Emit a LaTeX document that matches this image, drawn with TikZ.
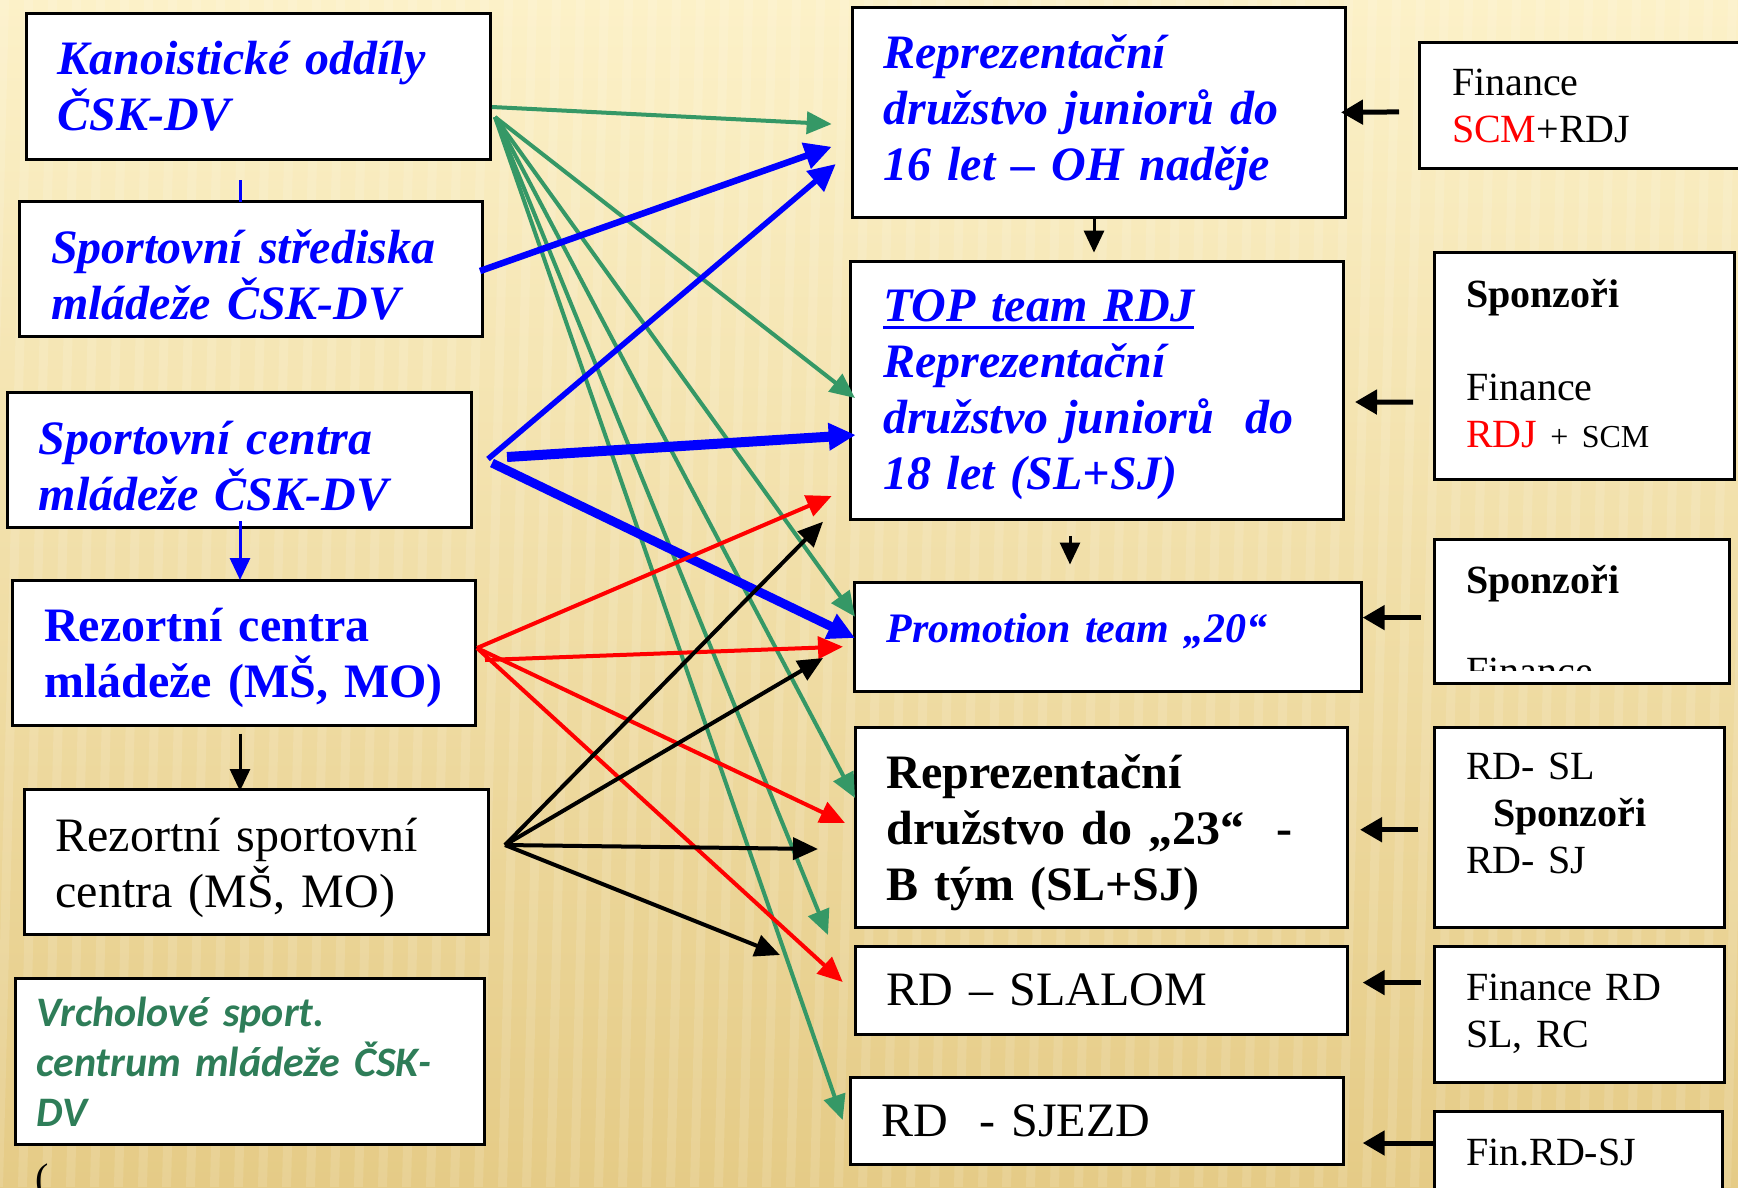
\documentclass[tikz,border=0pt]{standalone}
\usepackage{fontspec}
\setmainfont{Liberation Serif}
\setsansfont{Carlito}
\usetikzlibrary{arrows.meta,calc}

\definecolor{arrgreen}{RGB}{53,152,102}
\definecolor{txtgreen}{RGB}{46,125,88}
\definecolor{bgtop}{RGB}{252,241,200}
\definecolor{bgbot}{RGB}{229,203,134}

\newcommand{\bigtxt}{\fontsize{48}{56}\selectfont}
\newcommand{\midtxt}{\fontsize{40}{47}\selectfont}
\newcommand{\promotxt}{\fontsize{42}{50}\selectfont}
\newcommand{\ultext}[1]{\setbox0\hbox{#1}\rlap{\rule[-8pt]{\wd0}{3.5pt}}\box0}
\newcommand{\padtop}[1]{\rule{0pt}{#1}}

\tikzset{
  box/.style={draw=black, line width=3pt, fill=white, anchor=north west, align=left, inner ysep=0pt, outer sep=0pt},
  grnarr/.style={arrgreen, line width=4pt, -{Triangle[length=25pt,width=22pt]}},
  bluarr/.style={blue, -{Triangle[length=27pt,width=26pt]}},
  redarr/.style={red, line width=4pt, -{Triangle[length=25pt,width=22pt]}},
  blkarr/.style={black, line width=4pt, -{Triangle[length=25pt,width=22pt]}},
  finarr/.style={black, line width=5pt, -{Triangle[length=22pt,width=24pt]}},
  downarr/.style={line width=3pt, -{Triangle[length=22pt,width=20pt]}},
}

\begin{document}
\begin{tikzpicture}[x=1pt,y=1pt,yscale=-1,xscale=1]
  \useasboundingbox (0,0) rectangle (1738,1187);
  \clip (0,0) rectangle (1738,1187);

  % Background
  \shade[top color=bgtop, bottom color=bgbot] (0,0) rectangle (1738,1187);
  \foreach \sx in {0,24,...,1780} {
    \fill[white, opacity=.12] (\sx,0) -- (\sx+9,0) -- (\sx-21,1187) -- (\sx-30,1187) -- cycle;
  }

  % Left column
  \node[box, minimum width=464pt, minimum height=146pt, text width=402pt, inner xsep=31pt, text=blue, font=\bigtxt\bfseries\itshape] (kanoe) at (26.6,13.4) {Kanoistické oddíly\\ČSK-DV};
  \node[box, minimum width=463.4pt, minimum height=135pt, text width=400pt, inner xsep=31.6pt, text=blue, font=\bigtxt\bfseries\itshape] (stred) at (19.4,201.7) {\padtop{45pt}Sportovní střediska\\mládeže ČSK-DV};
  \node[box, minimum width=463.8pt, minimum height=135pt, text width=400.6pt, inner xsep=31.6pt, text=blue, font=\bigtxt\bfseries\itshape] (centra) at (7.2,392) {\padtop{46pt}Sportovní centra\\mládeže ČSK-DV};
  \node[box, minimum width=463.4pt, minimum height=145.6pt, text width=399.4pt, inner xsep=32pt, text=blue, font=\bigtxt\bfseries] (rezcen) at (12.2,580) {\padtop{43pt}Rezortní centra\\mládeže (MŠ, MO)};
  \node[box, minimum width=463.6pt, minimum height=145.6pt, text width=401.6pt, inner xsep=31pt, font=\bigtxt] (rezsport) at (24.4,789) {\padtop{45pt}Rezortní sportovní\\centra (MŠ, MO)};
  \node[box, minimum width=468.5pt, minimum height=166.5pt, text width=426.5pt, inner xsep=21pt, text=txtgreen, font=\fontsize{42}{50}\selectfont\sffamily\bfseries\itshape] (vrchol) at (15.5,978) {Vrcholové sport.\\centrum mládeže ČSK-\\DV};
  \node[anchor=base west, inner sep=0pt, font=\midtxt] (paren) at (35,1191) {(};

  % Middle column
  \node[box, minimum width=493pt, minimum height=209.3pt, text width=430pt, inner xsep=31.4pt, text=blue, font=\bigtxt\bfseries\itshape] (rep16) at (852,7.7) {Reprezentační\\družstvo juniorů do\\16 let – OH naděje};
  \node[box, minimum width=493pt, minimum height=258pt, text width=427pt, inner xsep=33pt, text=blue, font=\bigtxt\bfseries\itshape] (topteam) at (850,261) {\padtop{41pt}\ultext{TOP team RDJ}\\Reprezentační\\družstvo juniorů\ \ do\\18 let (SL+SJ)};
  \node[box, minimum width=507.5pt, minimum height=109pt, text width=442pt, inner xsep=32.7pt, text=blue, font=\promotxt\bfseries\itshape] (promo) at (854,582) {Promotion team „20“\\[-32pt]\mbox{}};
  \node[box, minimum width=492pt, minimum height=200pt, text width=428.6pt, inner xsep=31.7pt, font=\bigtxt\bfseries] (rep23) at (855,727) {\padtop{46pt}Reprezentační\\družstvo do „23“\ \ -\\B tým (SL+SJ)};
  \node[box, minimum width=492pt, minimum height=88pt, text width=428.6pt, inner xsep=31.7pt, font=\bigtxt] (slalom) at (855,946) {RD – SLALOM};
  \node[box, minimum width=493pt, minimum height=87pt, text width=431pt, inner xsep=31pt, font=\bigtxt] (sjezd) at (850,1077.5) {RD\ \ - SJEZD};

  % Right column
  \node[box, minimum width=330pt, minimum height=126pt, text width=265pt, inner xsep=32.5pt, font=\midtxt] (fin1) at (1419.5,42.9) {Finance\\\textcolor{red}{SCM}+RDJ};
  \node[box, minimum width=300.5pt, minimum height=227pt, text width=236.5pt, inner xsep=32pt, font=\midtxt] (spon1) at (1434,252.6) {\textbf{Sponzoři}\\[46pt]Finance\\\textcolor{red}{RDJ} {\fontsize{32}{38}\selectfont + SCM}\\[-41pt]\mbox{}};
  \node[box, minimum width=295pt, minimum height=144pt] (spon2) at (1434,539.6) {};
  \node[anchor=base west, inner sep=0pt, font=\midtxt\bfseries] (spon2a) at (1466,593.3) {Sponzoři};
  \begin{scope}
    \clip (1436,542) rectangle (1727,670);
    \node[anchor=base west, inner sep=0pt, font=\midtxt] (spon2b) at (1466,684) {Finance –};
  \end{scope}
  \node[box, minimum width=290.6pt, minimum height=200pt, text width=226.6pt, inner xsep=32pt, font=\midtxt] (spon3) at (1434,727) {RD- SL\\\hspace*{27pt}\textbf{Sponzoři}\\RD- SJ\\[-20pt]\mbox{}};
  \node[box, minimum width=290.6pt, minimum height=136pt, text width=226.6pt, inner xsep=32pt, font=\midtxt] (fin2) at (1434,946) {Finance RD\\SL, RC};
  \node[box, minimum width=288pt, minimum height=84pt, text width=224pt, inner xsep=32pt, font=\midtxt] (fin3) at (1434,1111) {Fin.RD-SJ};

  % Start points of the fans
  \coordinate (leftcol) at (240,0);
  \coordinate (rcolA) at (1094,0);
  \coordinate (rcolB) at (1070,0);
  \coordinate (kanout) at (492,107);
  \coordinate (kanfan) at (495,117);
  \coordinate (stredout) at (480,271);
  \coordinate (cenout) at (488,459);
  \coordinate (cenmid) at (507,457);
  \coordinate (cenlow) at (492,463);
  \coordinate (rezout) at (477,648);
  \coordinate (rezmid) at (485,660);
  \coordinate (rsout) at (505,845);

  % Vertical links
  \draw[blue, line width=3pt] ($(kanoe.south -| leftcol)+(0,20.6)$) -- (stred.north -| leftcol);
  \draw[downarr, blue] ($(centra.south -| leftcol)+(0,-6)$) -- (rezcen.north -| leftcol);
  \draw[downarr] ($(rezcen.south -| leftcol)+(0,8)$) -- ($(rezsport.north -| leftcol)+(0,2)$);
  \draw[downarr] (rep16.south -| rcolA) -- ($(topteam.north -| rcolA)+(0,-8.4)$);
  \draw[downarr] ($(topteam.south -| rcolB)+(0,16.8)$) -- ($(promo.north -| rcolB)+(0,-17.5)$);

  % Green arrows
  \draw[grnarr] (kanout) -- ($(rep16.west)+(-20.3,11.7)$);
  \draw[grnarr] (kanfan) -- ($(topteam.west)+(5,8)$);
  \draw[grnarr] (kanfan) -- ($(promo.west)+(1,-19.8)$);
  \draw[grnarr] (kanfan) -- ($(rep23.west)+(0,-29)$);
  \draw[grnarr] (kanfan) -- ($(slalom.west)+(-27,-55)$);
  \draw[grnarr] (kanfan) -- ($(sjezd.west)+(-7.3,-1)$);

  % Blue arrows
  \draw[bluarr, line width=6.5pt] (stredout) -- ($(rep16.west)+(-20.3,34.4)$);
  \draw[bluarr, line width=5.5pt] (cenout) -- ($(rep16.west)+(-16.3,51.7)$);
  \draw[bluarr, line width=10pt] (cenmid) -- ($(topteam.west)+(5.7,45)$);
  \draw[bluarr, line width=9pt] (cenlow) -- ($(promo.west)+(1,1.5)$);

  % Red arrows
  \draw[redarr] (rezout) -- ($(topteam.west)+(-18.3,106)$);
  \draw[redarr] (rezmid) -- ($(promo.west)+(-11,10.2)$);
  \draw[redarr] (rezout) -- ($(rep23.west)+(-10,-4)$);
  \draw[redarr] (rezout) -- ($(slalom.west)+(-12.3,-8)$);

  % Black arrows
  \draw[blkarr] (rsout) -- ($(topteam.west)+(-27,131.7)$);
  \draw[blkarr] (rsout) -- ($(promo.west)+(-31,21.5)$);
  \draw[blkarr] (rsout) -- ($(rep23.west)+(-37,22)$);
  \draw[blkarr] (rsout) -- ($(slalom.west)+(-75,-35)$);

  % Finance arrows
  \draw[finarr] ($(fin1.west)+(-20.5,6)$) -- ($(rep16.east)+(-4,0)$);
  \draw[finarr] ($(spon1.west)+(-21,36)$) -- ($(topteam.east)+(12,12)$);
  \draw[finarr] ($(spon2.west)+(-13.4,6)$) -- ($(promo.east)+(1.2,-18.9)$);
  \draw[finarr] ($(spon3.west)+(-16.3,2.7)$) -- ($(rep23.east)+(13,2.7)$);
  \draw[finarr] ($(fin2.west)+(-13.4,-31.4)$) -- ($(slalom.east)+(15.7,-7.4)$);
  \draw[finarr] ($(fin3.west)+(0,-10)$) -- ($(sjezd.east)+(19.7,22)$);
\end{tikzpicture}
\end{document}
